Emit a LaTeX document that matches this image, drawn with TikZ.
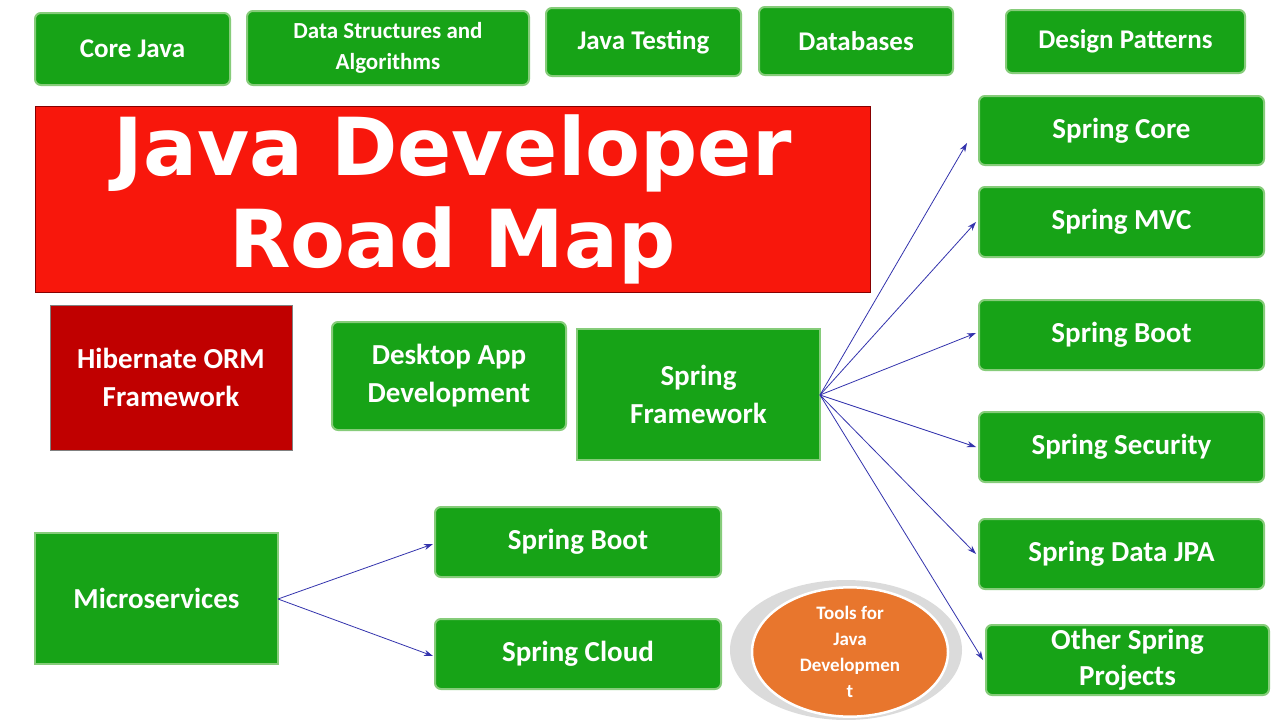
\documentclass[tikz,border=0pt]{standalone}
\usepackage{fontspec}
\setmainfont{Carlito}
\newfontfamily\titlefont{DejaVu Sans}
\usetikzlibrary{arrows.meta,shapes.geometric}
\definecolor{gfill}{HTML}{17A317}
\definecolor{gline}{HTML}{86CC7A}
\definecolor{tred}{HTML}{F8170C}
\definecolor{hred}{HTML}{C00000}
\definecolor{orng}{HTML}{E8762D}
\tikzset{
 gbox/.style={draw=gline,line width=2pt,fill=gfill,rounded corners=6pt,text=white,font=\bfseries\fontsize{27}{32}\selectfont,align=center,inner sep=0pt},
 sbox/.style={gbox,rounded corners=0pt},
 arr/.style={draw=blue!60!black!80,line width=0.8pt,-{Stealth[length=9pt,width=6pt]}},
}
\begin{document}
\begin{tikzpicture}[x=1pt,y=-1pt]
\useasboundingbox (0,0) rectangle (1280,720);
\fill[white] (0,0) rectangle (1280,720);
\newcommand\bx[6]{\node[#1,minimum width=#4-#2,minimum height=#5-#3] (#6) at ({(#2+#4)/2},{(#3+#5)/2})}
\bx{gbox}{35}{13}{230}{85}{cj} {Core Java};
\bx{gbox,font=\bfseries\fontsize{23}{31}\selectfont}{247}{11}{529}{85}{dsa} {Data Structures and\\Algorithms};
\bx{gbox}{546}{8}{741}{76}{jt} {Java Testing};
\bx{gbox}{759}{7}{953}{75}{db} {Databases};
\bx{gbox}{1006}{10}{1245}{73}{dp} {Design Patterns};
\bx{sbox,draw=hred!70!black,line width=0.8pt,fill=tred,font=\titlefont\bfseries\fontsize{80}{92}\selectfont}{35}{106}{870}{292}{title} {Java Developer\\Road Map};
\bx{sbox,draw=gray,line width=0.8pt,fill=hred,font=\bfseries\fontsize{29}{38}\selectfont}{50}{305}{292}{450}{hib} {Hibernate ORM\\Framework};
\bx{gbox,font=\bfseries\fontsize{29}{38}\selectfont}{332}{322}{566}{430}{desk} {Desktop App\\Development};
\bx{sbox,font=\bfseries\fontsize{29}{38}\selectfont}{577}{329}{820}{460}{sf} {Spring\\Framework};
\bx{gbox,font=\bfseries\fontsize{29}{36}\selectfont}{979}{96}{1264}{165}{sc} {Spring Core};
\bx{gbox,font=\bfseries\fontsize{29}{36}\selectfont}{979}{187}{1264}{257}{smvc} {Spring MVC};
\bx{gbox,font=\bfseries\fontsize{29}{36}\selectfont}{979}{300}{1264}{370}{sb} {Spring Boot};
\bx{gbox,font=\bfseries\fontsize{29}{36}\selectfont}{979}{412}{1264}{482}{ss} {Spring Security};
\bx{gbox,font=\bfseries\fontsize{29}{36}\selectfont}{979}{519}{1264}{589}{sd} {Spring Data JPA};
\bx{gbox,font=\bfseries\fontsize{29}{36}\selectfont}{986}{625}{1269}{695}{osp} {Other Spring\\Projects};
\bx{sbox,font=\bfseries\fontsize{29}{36}\selectfont}{35}{533}{278}{664}{ms} {Microservices};
\bx{gbox,font=\bfseries\fontsize{29}{36}\selectfont}{435}{507}{721}{577}{msb} {Spring Boot};
\bx{gbox,font=\bfseries\fontsize{29}{36}\selectfont}{435}{619}{721}{689}{mscl} {Spring Cloud};
\fill[black!14] (846,650) ellipse [x radius=116,y radius=70];
\node[ellipse,draw=white,line width=2.5pt,fill=orng,minimum width=196,minimum height=122,inner sep=0pt,text=white,font=\bfseries\fontsize{19}{26}\selectfont,align=center] (tools) at (850,652) {Tools for\\Java\\Developmen\\t};
\coordinate (sfo) at (820,395);
\draw[arr] (sfo) -- (967,143);
\draw[arr] (sfo) -- ([xshift=-2pt]smvc.west);
\draw[arr] (sfo) -- ([xshift=-2pt,yshift=2pt]sb.west);
\draw[arr] (sfo) -- ([xshift=-2pt]ss.west);
\draw[arr] (sfo) -- ([xshift=-2pt]sd.west);
\draw[arr] (sfo) -- ([xshift=-2pt]osp.west);
\coordinate (mso) at (278,599);
\draw[arr] (mso) -- ([xshift=-1pt,yshift=-2pt]msb.west);
\draw[arr] (mso) -- ([xshift=-1pt,yshift=-2pt]mscl.west);
\end{tikzpicture}
\end{document}
